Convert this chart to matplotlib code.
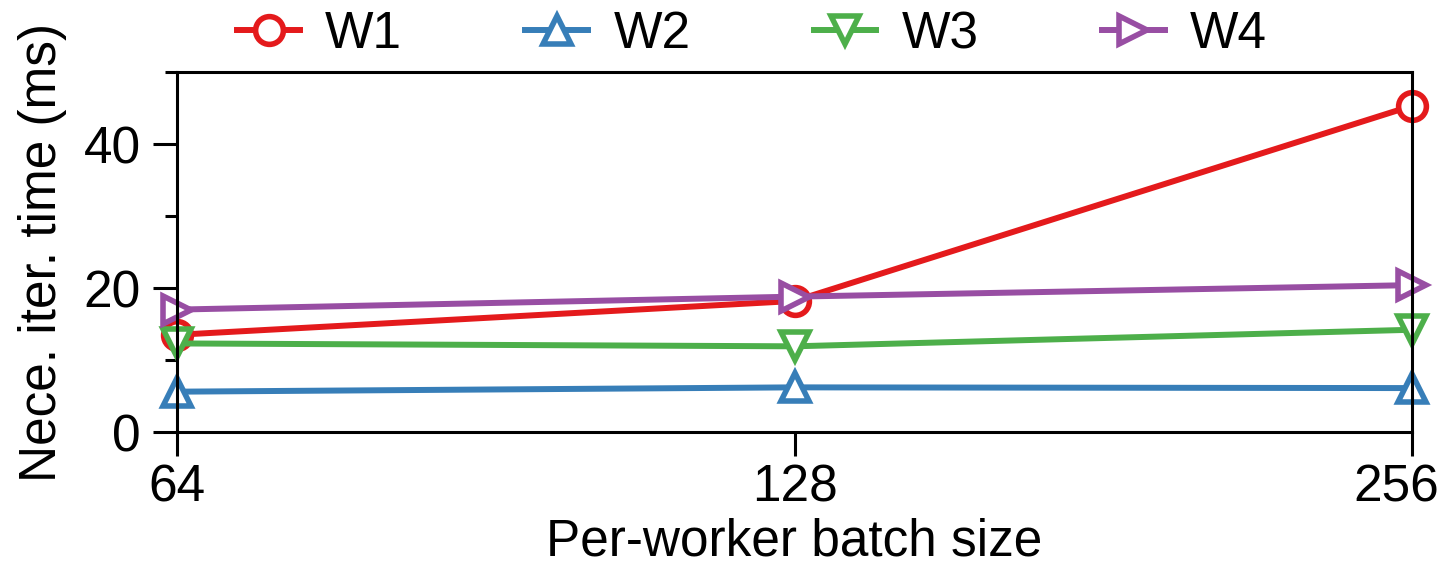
import matplotlib
matplotlib.use("Agg")
import matplotlib.pyplot as plt
from matplotlib.ticker import MultipleLocator
from matplotlib.transforms import ScaledTranslation

plt.rcParams['font.family'] = ['Liberation Sans', 'DejaVu Sans']

batch_sizes = ["64", "128", "256"]
w1 = [13.5, 18.2, 45.3]
w2 = [5.6, 6.2, 6.1]
w3 = [12.3, 11.9, 14.2]
w4 = [17.0, 18.8, 20.4]

series = [
    ("W1", w1, "#E41A1C", "o"),
    ("W2", w2, "#377EB8", "^"),
    ("W3", w3, "#4DAF4A", "v"),
    ("W4", w4, "#984EA3", ">"),
]

fig = plt.figure(figsize=(14.47, 5.67), dpi=100)
ax = fig.add_axes([177 / 1447, 1 - 432 / 567, 1235 / 1447, 360 / 567])

x = range(len(batch_sizes))
for name, vals, color, marker in series:
    ax.plot(x, vals, color=color, marker=marker, lw=4.3, ms=20,
            mfc="white", mec=color, mew=4, label=name, clip_on=False)

ax.set_xlim(0, 2)
ax.set_ylim(0, 50)
ax.set_xticks(list(x))
ax.set_xticklabels(batch_sizes)
ax.yaxis.set_major_locator(MultipleLocator(20))
ax.yaxis.set_minor_locator(MultipleLocator(10))

for s in ax.spines.values():
    s.set_linewidth(2.2)
ax.tick_params(axis="both", which="major", length=17, width=2.2, labelsize=37)
ax.tick_params(axis="y", which="major", pad=9)
ax.tick_params(axis="x", which="major", pad=6)
ax.tick_params(axis="y", which="minor", length=8.5, width=2.2)

# last x label sits a bit to the left so it stays inside the figure
last = ax.get_xticklabels()[-1]
last.set_transform(last.get_transform() + ScaledTranslation(-0.16, 0, fig.dpi_scale_trans))

ax.set_xlabel("Per-worker batch size", fontsize=37, labelpad=3)
ax.set_ylabel("Nece. iter. time (ms)", fontsize=37, labelpad=12)

ax.legend(loc="center", bbox_to_anchor=(0.4656, 1.103), ncol=4, frameon=False,
          fontsize=37, handlelength=1.22, handletextpad=0.49, columnspacing=2.4,
          borderaxespad=0)

fig.savefig("out.png", dpi=100)
